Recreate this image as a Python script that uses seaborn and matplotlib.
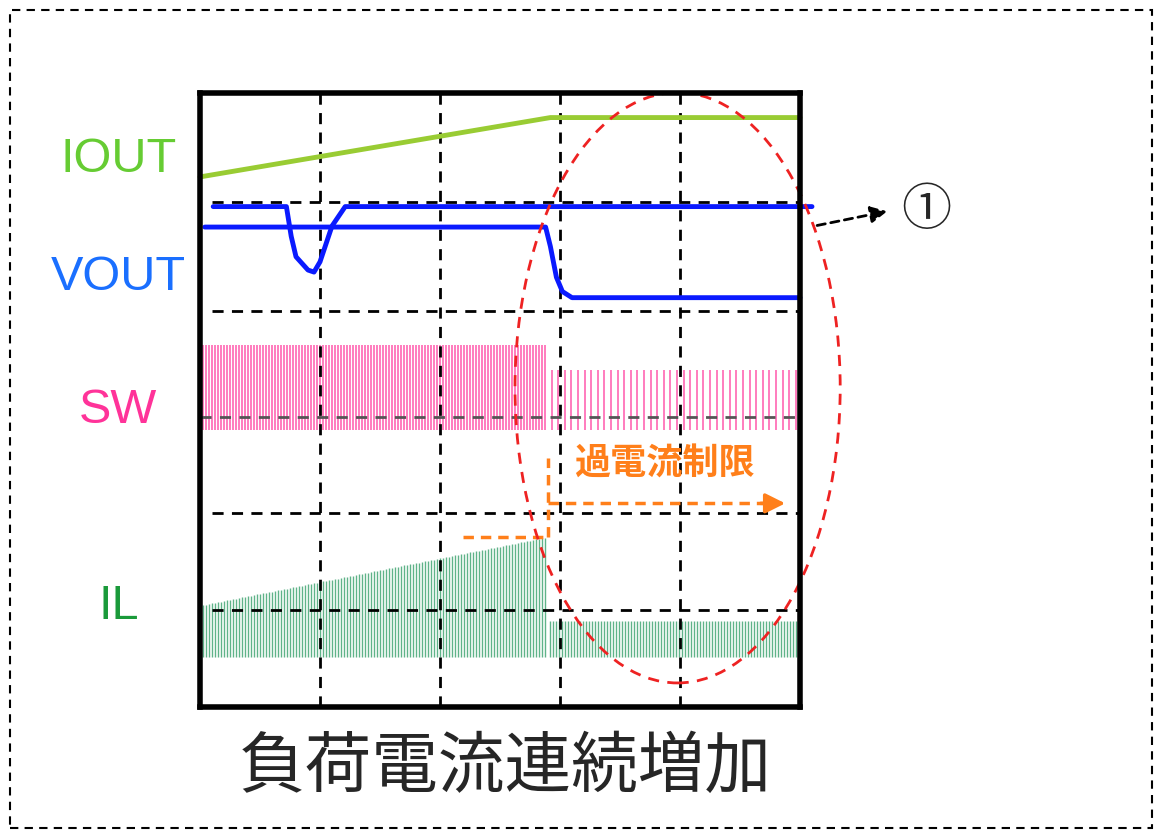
import matplotlib
matplotlib.use("Agg")
import matplotlib.pyplot as plt
import seaborn as sns
import numpy as np
import pandas as pd
from matplotlib.patches import Rectangle, Ellipse

sns.set_theme(style="white")
plt.rcParams['font.family'] = ['Noto Sans CJK JP', 'DejaVu Sans']

# ---- data (time divisions 0..5, vertical divisions 0..6) ----
iout_t = [0.0, 2.92, 5.0]
iout_v = [5.18, 5.76, 5.76]
vout1_t = [0.11, 0.72, 0.76, 0.8, 0.9, 0.95, 1.0, 1.1, 1.21, 5.1]
vout1_v = [4.89, 4.89, 4.6, 4.4, 4.27, 4.25, 4.35, 4.7, 4.89, 4.89]
vout2_t = [0.04, 2.88, 2.92, 2.97, 3.02, 3.1, 5.0]
vout2_v = [4.69, 4.69, 4.5, 4.2, 4.06, 4.0, 4.0]
sw_low = 2.71
sw_high_before = 3.54
sw_high_after = 3.29
il_low = 0.49
il_top_start, il_top_limit, il_top_after = 0.99, 1.66, 0.84
t_limit = 2.9
hgrid = [0.95, 1.9, 3.87, 4.93]
vgrid = [1, 2, 3, 4]
labels = ["IOUT", "VOUT", "SW", "IL"]
label_y = [5.35, 4.2, 2.9, 0.98]
label_colors = ["#66cc33", "#1a6fff", "#ff3399", "#1a9a3a"]

fig = plt.figure(figsize=(11.7, 8.39), dpi=100)
W, H = 1170, 839
ax = fig.add_axes([200/W, 1-707/H, 600/W, 614/H])
ax.set_xlim(0, 5)
ax.set_ylim(0, 6)
ax.set_xticks([]); ax.set_yticks([])
for s in ax.spines.values():
    s.set_linewidth(4); s.set_color("black"); s.set_zorder(10)

for g in vgrid:
    ax.axvline(g, color="black", ls=(0, (4, 3)), lw=2, zorder=3)
for g in hgrid:
    ax.axhline(g, xmin=0.02, color="black", ls=(0, (4, 3)), lw=2, zorder=3)

# SW stripes
xs1 = np.arange(0.0, t_limit, 0.025)
xs2 = np.arange(t_limit + 0.03, 5.0, 0.055)
ax.vlines(xs1, sw_low, sw_high_before, color="#ff66b3", lw=1.2, zorder=2)
ax.vlines(xs2, sw_low, sw_high_after, color="#ff66b3", lw=1.2, zorder=2)
ax.axhline(2.83, color="#555555", ls=(0, (4, 3)), lw=2, zorder=3)

# IL stripes
xi1 = np.arange(0.0, t_limit, 0.025)
top1 = il_top_start + (il_top_limit - il_top_start) * xi1 / t_limit
xi2 = np.arange(t_limit + 0.02, 5.0, 0.025)
ax.vlines(xi1, il_low, top1, color="#5fb389", lw=1.0, zorder=2)
ax.vlines(xi2, il_low, il_top_after, color="#5fb389", lw=1.0, zorder=2)

# lines
sns.lineplot(x=iout_t, y=iout_v, ax=ax, color="#99cc33", lw=3.5, zorder=5, clip_on=False)
sns.lineplot(data=pd.DataFrame({"t": vout1_t, "v": vout1_v}), x="t", y="v", ax=ax,
             color="#0a1aff", lw=3.5, zorder=5, clip_on=False, sort=False)
sns.lineplot(data=pd.DataFrame({"t": vout2_t, "v": vout2_v}), x="t", y="v", ax=ax,
             color="#0a1aff", lw=3.5, zorder=5, clip_on=False, sort=False)
ax.set_xlabel(""); ax.set_ylabel("")

# orange overcurrent limit
oc = "#ff7f1a"
ax.plot([2.19, t_limit], [il_top_limit, il_top_limit], color=oc, ls=(0, (3, 2)), lw=2.5, zorder=6)
ax.plot([t_limit, t_limit], [il_top_limit, 2.43], color=oc, ls=(0, (3, 2)), lw=2.5, zorder=6)
ax.plot([t_limit, 4.7], [1.99, 1.99], color=oc, ls=(0, (3, 2)), lw=2.5, zorder=6)
ax.annotate("", xy=(4.9, 1.99), xytext=(4.65, 1.99),
            arrowprops=dict(arrowstyle="-|>", color=oc, lw=2.5, mutation_scale=30), zorder=6)
ax.text(3.12, 2.37, "過電流制限", color=oc, fontsize=26, fontweight="bold",
        va="center", ha="left", zorder=7)

# red ellipse
ax.add_patch(Ellipse((3.98, 3.12), 2.71, 5.77, fill=False, ec="#ee2222", ls=(0, (4, 3)),
                     lw=2, clip_on=False, zorder=8))

# labels
for lab, y, c in zip(labels, label_y, label_colors):
    ax.text(-0.68, y, lab, color=c, fontsize=35, ha="center", va="center",
            family=["Liberation Sans", "DejaVu Sans"])

# annotation 1
ax.annotate("", xy=(5.75, 4.85), xytext=(5.12, 4.7),
            arrowprops=dict(arrowstyle="-|>", color="black", lw=2, ls=(0, (3, 2)),
                            mutation_scale=25), annotation_clip=False)
ax.text(6.05, 4.85, "①", fontsize=36, ha="center", va="center", clip_on=False)

fig.text(505/W, 1-768/H, "負荷電流連続増加", fontsize=48, ha="center", va="center")
fig.add_artist(Rectangle((10/W, 1-828/H), 1142/W, 818/H, transform=fig.transFigure,
                         fill=False, ec="black", ls=(0, (4, 3)), lw=1.5))

fig.savefig("out.png", dpi=100)
